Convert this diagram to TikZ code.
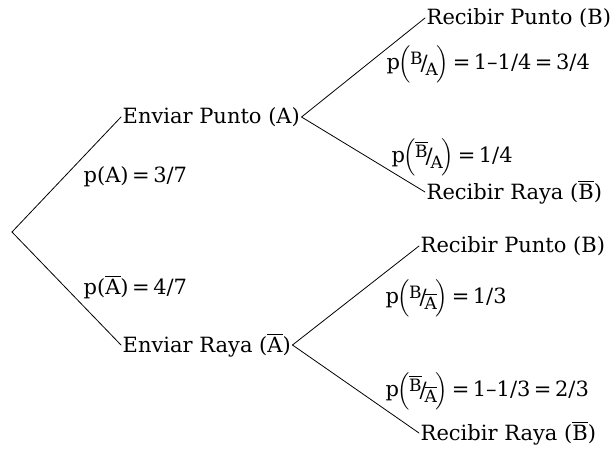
\RequirePackage{fix-cm}
\documentclass[tikz,border=0pt]{standalone}
\usepackage{amsmath}
\usepackage{fontspec}
\setmainfont{DejaVu Serif}
\newcommand{\ovl}[1]{$\overline{\text{#1}}$}
\newcommand{\cprob}[2]{p\kern-1.5pt$\Bigl($\kern-1pt\raisebox{5pt}{\fontsize{17}{17}\selectfont #1}\kern-2pt\raisebox{-1pt}{/}\kern-2pt\raisebox{-6pt}{\fontsize{17}{17}\selectfont #2}\kern-1pt$\Bigr)$}
\begin{document}
\begin{tikzpicture}[x=1pt,y=-1pt,line cap=round,line join=round,
  every node/.style={inner sep=1.5pt,font=\fontsize{21}{25}\selectfont}]
  \useasboundingbox (0,0) rectangle (614,451);
  \coordinate (root) at (12,232);
  % first level
  \node[anchor=west] (ep) at (121,117) {Enviar Punto (A)};
  \node[anchor=west] (er) at (121,345) {Enviar Raya (\ovl{A})};
  % second level
  \node[anchor=west] (rp1) at (425,18) {Recibir Punto (B)};
  \node[anchor=west] (rr1) at (425,192) {Recibir Raya (\ovl{B})};
  \node[anchor=west] (rp2) at (419,246) {Recibir Punto (B)};
  \node[anchor=west] (rr2) at (419,433) {Recibir Raya (\ovl{B})};
  \draw[line width=0.8pt] (root) -- (ep.west);
  \draw[line width=0.8pt] (root) -- (er.west);
  \draw[line width=0.8pt] (ep.east) -- (rp1.west);
  \draw[line width=0.8pt] (ep.east) -- (rr1.west);
  \draw[line width=0.8pt] (er.east) -- (rp2.west);
  \draw[line width=0.8pt] (er.east) -- (rr2.west);
  % probabilities
  \node[anchor=west] (pa) at (82,177) {p(A)\,=\,3/7};
  \node[anchor=west] (pna) at (82,287) {p(\ovl{A})\,=\,4/7};
  \node[anchor=west] (pba) at (385,64) {\cprob{B}{A}\,=\,1–1/4\,=\,3/4};
  \node[anchor=west] (pnba) at (390,157) {\cprob{\ovl{B}}{A}\,=\,1/4};
  \node[anchor=west] (pbna) at (384,298) {\cprob{B}{\ovl{A}}\,=\,1/3};
  \node[anchor=west] (pnbna) at (384,391) {\cprob{\ovl{B}}{\ovl{A}}\,=\,1–1/3\,=\,2/3};
\end{tikzpicture}
\end{document}
